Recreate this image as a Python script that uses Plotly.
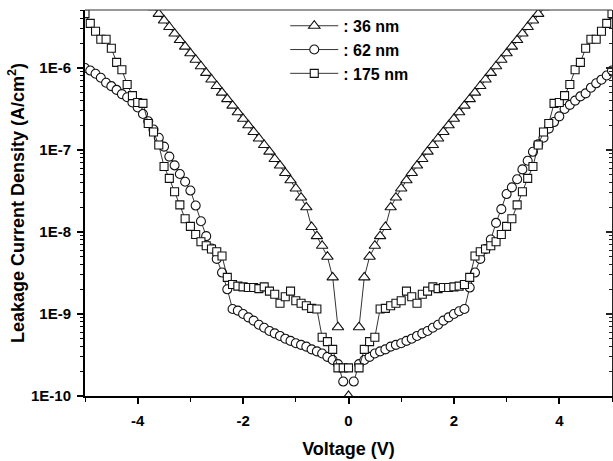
import plotly.graph_objects as go

# Voltage sweep (V), -5.0 ... 5.0 in 0.1 V steps
VOLTAGE = [round(-5.0 + 0.1 * i, 1) for i in range(101)]

# ---- 36 nm (triangles), A/cm^2 ----
J36_NEG = [4.6e-5, 3.9e-5, 3.3e-5, 2.8e-5, 2.4e-5, 2.04e-5, 1.74e-5, 1.48e-5, 1.26e-5, 1.07e-5,
           9.1e-6, 7.8e-6, 6.6e-6, 5.5e-6, 4.57e-6, 3.8e-6, 3.16e-6, 2.63e-6, 2.19e-6, 1.82e-6,
           1.51e-6, 1.26e-6, 1.05e-6, 8.71e-7, 7.24e-7, 6.03e-7, 5.0e-7, 4.17e-7, 3.47e-7, 2.88e-7,
           2.4e-7, 2.0e-7, 1.66e-7, 1.38e-7, 1.15e-7, 9.55e-8, 7.76e-8, 6.46e-8, 5.25e-8, 4.27e-8,
           3.39e-8, 2.63e-8, 2.0e-8, 1.15e-8, 8.9e-9, 6.8e-9, 5.0e-9, 2.8e-9, 6.9e-10, None]
J36_ZERO = [1.0e-10]
J36_POS = [None, 6.9e-10, 2.8e-9, 5.0e-9, 6.8e-9, 8.9e-9, 1.15e-8, 2.0e-8, 2.63e-8, 3.39e-8,
           4.27e-8, 5.25e-8, 6.46e-8, 7.76e-8, 9.55e-8, 1.15e-7, 1.38e-7, 1.66e-7, 2.0e-7, 2.4e-7,
           2.88e-7, 3.47e-7, 4.17e-7, 5.0e-7, 6.03e-7, 7.24e-7, 8.71e-7, 1.05e-6, 1.26e-6, 1.51e-6,
           1.82e-6, 2.19e-6, 2.63e-6, 3.16e-6, 3.8e-6, 4.57e-6, 5.5e-6, 6.6e-6, 7.8e-6, 9.1e-6,
           1.07e-5, 1.26e-5, 1.48e-5, 1.74e-5, 2.04e-5, 2.4e-5, 2.8e-5, 3.3e-5, 3.9e-5, 4.6e-5]

# ---- 62 nm (circles), A/cm^2 ----
J62_NEG = [1.0e-6, 9.3e-7, 8.5e-7, 7.6e-7, 6.6e-7, 6.0e-7, 5.4e-7, 4.8e-7, 4.4e-7, 3.8e-7,
           3.3e-7, 2.75e-7, 2.24e-7, 1.78e-7, 1.41e-7, 1.10e-7, 8.3e-8, 6.5e-8, 5.1e-8, 4.1e-8,
           3.2e-8, 2.1e-8, 1.35e-8, 8.9e-9, 6.3e-9, 4.7e-9, 3.2e-9, 2.0e-9, 1.15e-9, 1.10e-9,
           1.0e-9, 9.1e-10, 8.3e-10, 7.4e-10, 6.8e-10, 6.2e-10, 5.8e-10, 5.4e-10, 5.0e-10, 4.7e-10,
           4.4e-10, 4.2e-10, 4.0e-10, 3.7e-10, 3.5e-10, 3.3e-10, 3.0e-10, 2.75e-10, 2.45e-10, 1.5e-10]
J62_ZERO = [None]
J62_POS = [1.5e-10, 2.45e-10, 2.75e-10, 3.0e-10, 3.3e-10, 3.5e-10, 3.7e-10, 4.0e-10, 4.2e-10, 4.4e-10,
           4.7e-10, 5.0e-10, 5.4e-10, 5.8e-10, 6.2e-10, 6.8e-10, 7.4e-10, 8.3e-10, 9.1e-10, 1.0e-9,
           1.08e-9, 1.15e-9, 2.1e-9, 3.2e-9, 4.7e-9, 6.2e-9, 8.1e-9, 1.29e-8, 1.9e-8, 2.9e-8,
           3.5e-8, 4.4e-8, 5.8e-8, 7.4e-8, 9.5e-8, 1.17e-7, 1.41e-7, 1.82e-7, 2.19e-7, 2.57e-7,
           3.16e-7, 3.55e-7, 4.0e-7, 4.5e-7, 4.9e-7, 5.75e-7, 6.5e-7, 7.2e-7, 8.1e-7, 9.3e-7]

# ---- 175 nm (squares), A/cm^2 ----
J175_NEG = [4.6e-6, 3.5e-6, 2.8e-6, 2.24e-6, 2.24e-6, 1.74e-6, 1.17e-6, 9.5e-7, 6.3e-7, 4.6e-7,
            3.8e-7, 3.7e-7, 2.1e-7, 1.66e-7, 1.15e-7, 6.3e-8, 4.5e-8, 3.1e-8, 2.14e-8, 1.45e-8,
            1.17e-8, 9.3e-9, 7.6e-9, 6.8e-9, 6.2e-9, 5.75e-9, 5.1e-9, 2.8e-9, 2.29e-9, 2.19e-9,
            2.14e-9, 2.1e-9, 2.1e-9, 2.04e-9, 2.14e-9, 1.9e-9, 1.74e-9, 1.35e-9, 1.62e-9, 1.9e-9,
            1.45e-9, 1.35e-9, 1.26e-9, 1.17e-9, 1.15e-9, 5.2e-10, 4.6e-10, 3.7e-10, 2.2e-10, 2.2e-10]
J175_ZERO = [2.2e-10]
J175_POS = [None, 2.2e-10, 3.7e-10, 4.6e-10, 5.2e-10, 1.15e-9, 1.17e-9, 1.26e-9, 1.35e-9, 1.45e-9,
            1.9e-9, 1.62e-9, 1.35e-9, 1.74e-9, 1.9e-9, 2.14e-9, 2.04e-9, 2.1e-9, 2.1e-9, 2.14e-9,
            2.19e-9, 2.29e-9, 2.8e-9, 5.1e-9, 5.75e-9, 6.2e-9, 6.8e-9, 7.6e-9, 9.3e-9, 1.17e-8,
            1.45e-8, 2.14e-8, 3.1e-8, 4.5e-8, 6.3e-8, 1.15e-7, 1.66e-7, 2.1e-7, 3.7e-7, 3.8e-7,
            4.6e-7, 6.3e-7, 9.5e-7, 1.17e-6, 1.74e-6, 2.24e-6, 2.24e-6, 2.8e-6, 3.5e-6, 4.6e-6]

SERIES = [
    (": 36 nm", J36_NEG + J36_ZERO + J36_POS, "triangle-up", 10),
    (": 62 nm", J62_NEG + J62_ZERO + J62_POS, "circle", 9),
    (": 175 nm", J175_NEG + J175_ZERO + J175_POS, "square", 8),
]

Y_TICKS = [1e-10, 1e-9, 1e-8, 1e-7, 1e-6]
Y_TICK_TEXT = ["1E-10", "1E-9", "1E-8", "1E-7", "1E-6"]
X_TICKS = [-4, -2, 0, 2, 4]
X_TICK_TEXT = ["-4", "-2", "0", "2", "4"]

FONT = "Liberation Sans, Arial, Helvetica, sans-serif"
minor_y = [k * 10.0 ** e for e in range(-10, -5) for k in range(2, 10)]

fig = go.Figure()
for name, ys, sym, size in SERIES:
    fig.add_trace(go.Scatter(
        x=VOLTAGE, y=ys, name=name, mode="lines+markers",
        connectgaps=False,
        line=dict(color="black", width=0.8),
        marker=dict(symbol=sym, size=size, color="white",
                    line=dict(color="#111111", width=1.1)),
    ))

# invisible trace to carry the right-hand mirror axis
fig.add_trace(go.Scatter(x=[], y=[], yaxis="y2", showlegend=False, hoverinfo="skip"))

fig.update_layout(
    width=613, height=461,
    margin=dict(l=85, r=1, t=10, b=65, autoexpand=False),
    paper_bgcolor="white", plot_bgcolor="white",
    font=dict(family=FONT, size=15, color="black", weight="bold"),
    showlegend=True,
    legend=dict(x=0.38, y=1.003, xanchor="left", yanchor="top",
                bgcolor="rgba(0,0,0,0)", borderwidth=0, itemwidth=48,
                font=dict(family=FONT, size=16, color="black", weight="bold"),
                tracegroupgap=0),
    xaxis=dict(
        range=[-5, 5], showgrid=False, zeroline=False, automargin=False,
        showline=True, linecolor="black", linewidth=2,
        tickmode="array", tickvals=X_TICKS, ticktext=X_TICK_TEXT,
        ticks="outside", ticklen=6, tickwidth=1.5, tickcolor="black",
        ticklabelstandoff=4,
        minor=dict(tickmode="array", tickvals=[-5, -3, -1, 1, 3, 5],
                   ticks="outside", ticklen=4, tickwidth=1.2, tickcolor="black"),
        tickfont=dict(family=FONT, size=15, color="black", weight="bold"),
        title=dict(text="Voltage (V)", standoff=14,
                   font=dict(family=FONT, size=18, color="black", weight="bold")),
    ),
    yaxis=dict(
        type="log", range=[-10, -5.293], showgrid=False, zeroline=False, automargin=False,
        showline=True, linecolor="black", linewidth=2,
        tickmode="array", tickvals=Y_TICKS, ticktext=Y_TICK_TEXT,
        ticks="outside", ticklen=6, tickwidth=1.5, tickcolor="black",
        ticklabelstandoff=3,
        minor=dict(tickmode="array", tickvals=minor_y,
                   ticks="outside", ticklen=3, tickwidth=1, tickcolor="black"),
        tickfont=dict(family=FONT, size=15, color="black", weight="bold"),
        title=dict(text="Leakage Current Density (A/cm<sup>2</sup>)", standoff=2,
                   font=dict(family=FONT, size=18, color="black", weight="bold")),
    ),
    yaxis2=dict(
        type="log", range=[-10, -5.293], overlaying="y", side="right", automargin=False,
        showgrid=False, zeroline=False, showticklabels=False,
        showline=True, linecolor="#222222", linewidth=1.5,
        tickmode="array", tickvals=Y_TICKS,
        ticks="inside", ticklen=6, tickwidth=1.5, tickcolor="#222222",
        minor=dict(tickmode="array", tickvals=minor_y,
                   ticks="inside", ticklen=3, tickwidth=1, tickcolor="#222222"),
    ),
    shapes=[dict(type="line", xref="paper", yref="paper", x0=0, x1=1, y0=1, y1=1,
                 line=dict(color="#333333", width=1.2))],
)

fig.write_html("out.html", config={"displayModeBar": False},
               post_script="document.body.style.margin='0';document.body.style.overflow='hidden';")
